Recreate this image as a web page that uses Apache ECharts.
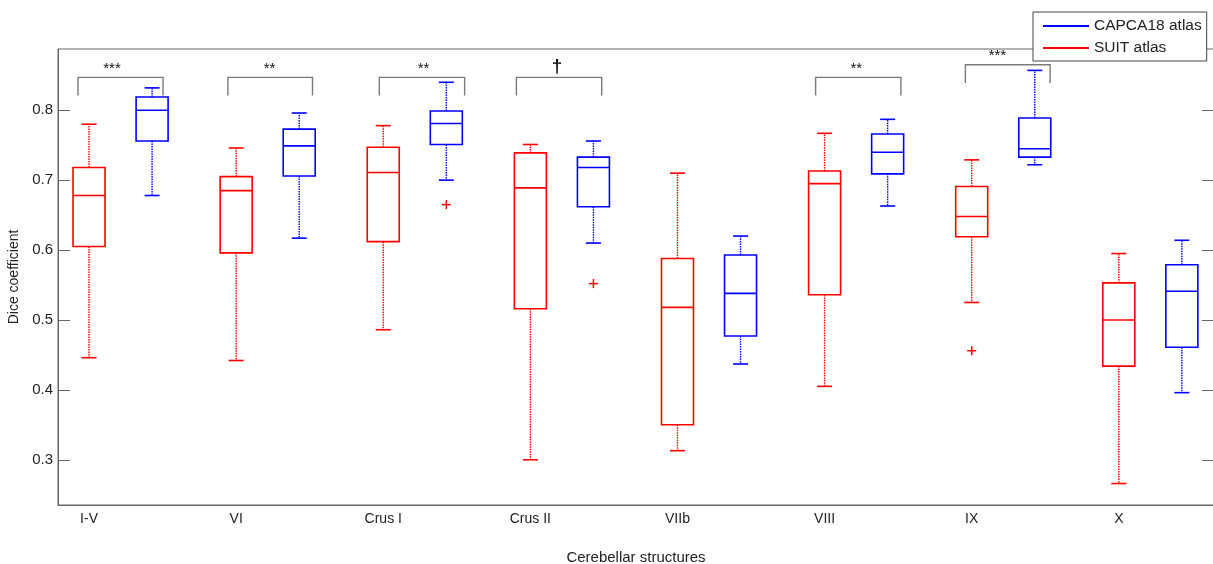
<!DOCTYPE html>
<html>
<head>
<meta charset="utf-8">
<script src="https://cdn.jsdelivr.net/npm/echarts@6/dist/echarts.min.js"></script>
<style>
  html, body { margin: 0; padding: 0; background: #fff; }
  #chart { width: 1213px; height: 564px; }
</style>
</head>
<body>
<div id="chart"></div>
<script>
// cerebellar structures (x ticks sit on the SUIT boxes)
const structures = ['I-V', 'VI', 'Crus I', 'Crus II', 'VIIb', 'VIII', 'IX', 'X'];

// box stats: [min, Q1, median, Q3, max]
const suitStats = [
  [0.446, 0.605, 0.678, 0.718, 0.780],
  [0.442, 0.596, 0.685, 0.705, 0.746],
  [0.486, 0.612, 0.711, 0.747, 0.778],
  [0.300, 0.516, 0.689, 0.739, 0.751],
  [0.313, 0.350, 0.518, 0.588, 0.710],
  [0.405, 0.536, 0.695, 0.713, 0.767],
  [0.525, 0.619, 0.648, 0.691, 0.729],
  [0.266, 0.434, 0.500, 0.553, 0.595]
];
const capcaStats = [
  [0.678, 0.756, 0.800, 0.819, 0.832],
  [0.617, 0.706, 0.749, 0.773, 0.796],
  [0.700, 0.751, 0.781, 0.799, 0.840],
  [0.610, 0.662, 0.718, 0.733, 0.756],
  [0.437, 0.477, 0.538, 0.593, 0.620],
  [0.663, 0.709, 0.740, 0.766, 0.787],
  [0.722, 0.733, 0.745, 0.789, 0.857],
  [0.396, 0.461, 0.541, 0.579, 0.614]
];

// outliers: [position, value]
const outliers = [
  [3.4286, 0.665],
  [4.4286, 0.552],
  [7, 0.456]
];

// significance brackets: [x left, x right, y top, y leg end, label x, label]
const brackets = [
  [0.925, 1.503, 0.847, 0.821, 1.156, '***'],
  [1.944, 2.519, 0.847, 0.821, 2.227, '**'],
  [2.973, 3.553, 0.847, 0.821, 3.274, '**'],
  [3.905, 4.485, 0.847, 0.821, 4.182, '\u2020'],
  [5.939, 6.519, 0.847, 0.821, 6.216, '**'],
  [6.957, 7.533, 0.865, 0.839, 7.175, '***']
];

const yTicks = [0.3, 0.4, 0.5, 0.6, 0.7, 0.8];
const blueOffset = 0.4286;

const RED = '#ff0000';
const BLUE = '#0000ff';
const AXIS = '#666666';
const FONT = '"Liberation Sans", Arial, sans-serif';

const suitData = suitStats.map((s, i) => [i + 1].concat(s));
const capcaData = capcaStats.map((s, i) => [i + 1 + blueOffset].concat(s));

function renderBox(color) {
  return function (params, api) {
    const x = api.value(0);
    const pMin = api.coord([x, api.value(1)]);
    const pQ1 = api.coord([x, api.value(2)]);
    const pMed = api.coord([x, api.value(3)]);
    const pQ3 = api.coord([x, api.value(4)]);
    const pMax = api.coord([x, api.value(5)]);
    const cx = pMed[0];
    const hw = 16, cap = 7.5;
    const solid = { stroke: color, lineWidth: 1.6, fill: null };
    const dotted = { stroke: color, lineWidth: 1.4, lineDash: [1.5, 1] };
    return {
      type: 'group',
      children: [
        { type: 'line', shape: { x1: cx, y1: pQ3[1], x2: cx, y2: pMax[1] }, style: dotted },
        { type: 'line', shape: { x1: cx, y1: pQ1[1], x2: cx, y2: pMin[1] }, style: dotted },
        { type: 'line', shape: { x1: cx - cap, y1: pMax[1], x2: cx + cap, y2: pMax[1] }, style: solid },
        { type: 'line', shape: { x1: cx - cap, y1: pMin[1], x2: cx + cap, y2: pMin[1] }, style: solid },
        { type: 'rect', shape: { x: cx - hw, y: pQ3[1], width: hw * 2, height: pQ1[1] - pQ3[1] }, style: solid },
        { type: 'line', shape: { x1: cx - hw, y1: pMed[1], x2: cx + hw, y2: pMed[1] }, style: solid }
      ]
    };
  };
}

const chart = echarts.init(document.getElementById('chart'));

const option = {
  animation: false,
  backgroundColor: '#fff',
  grid: {
    left: 58, right: -1, top: 49, bottom: 59,
    outerBoundsMode: 'none',
    containLabel: false,
    show: true, borderColor: AXIS, borderWidth: 1
  },
  legend: {
    orient: 'vertical',
    left: 1033, top: 12,
    padding: [4, 5, 3, 10],
    itemGap: 2,
    itemWidth: 46, itemHeight: 2,
    backgroundColor: '#fff',
    borderColor: '#444',
    borderWidth: 1,
    borderRadius: 0,
    z: 20,
    textStyle: { fontFamily: FONT, fontSize: 15.5, color: '#222', lineHeight: 20 },
    data: [
      { name: 'CAPCA18 atlas', icon: 'rect', itemStyle: { color: BLUE } },
      { name: 'SUIT atlas', icon: 'rect', itemStyle: { color: RED } }
    ]
  },
  xAxis: {
    type: 'value',
    min: 0.789, max: 8.647,
    name: 'Cerebellar structures',
    nameLocation: 'middle',
    nameGap: 45,
    nameTextStyle: { fontFamily: FONT, fontSize: 15, color: '#222' },
    axisLine: { show: true, lineStyle: { color: AXIS, width: 1 } },
    axisTick: { show: false },
    splitLine: { show: false },
    axisLabel: {
      customValues: [1, 2, 3, 4, 5, 6, 7, 8],
      formatter: v => structures[Math.round(v) - 1],
      margin: 7,
      fontFamily: FONT, fontSize: 14, color: '#222'
    }
  },
  yAxis: [{
    type: 'value',
    min: 0.2353, max: 0.8876,
    name: 'Dice coefficient',
    nameLocation: 'middle',
    nameGap: 30,
    nameTextStyle: { fontFamily: FONT, fontSize: 14, color: '#222' },
    axisLine: { show: true, lineStyle: { color: AXIS, width: 1 } },
    axisTick: { show: true, inside: true, length: 12, customValues: yTicks, lineStyle: { color: AXIS } },
    splitLine: { show: false },
    axisLabel: {
      customValues: yTicks,
      formatter: v => v.toFixed(1),
      margin: 5,
      fontFamily: FONT, fontSize: 15, color: '#222'
    }
  }, {
    type: 'value',
    position: 'right',
    min: 0.2353, max: 0.8876,
    axisLine: { show: true, lineStyle: { color: AXIS, width: 1 } },
    axisTick: { show: true, inside: true, length: 12, customValues: yTicks, lineStyle: { color: AXIS } },
    axisLabel: { show: false },
    splitLine: { show: false }
  }],
  series: [
    {
      name: 'CAPCA18 atlas',
      type: 'custom',
      data: capcaData,
      renderItem: renderBox(BLUE),
      itemStyle: { color: BLUE },
      encode: { x: 0, y: [1, 2, 3, 4, 5] }
    },
    {
      name: 'SUIT atlas',
      type: 'custom',
      data: suitData,
      renderItem: renderBox(RED),
      itemStyle: { color: RED },
      encode: { x: 0, y: [1, 2, 3, 4, 5] }
    },
    {
      name: 'outliers',
      type: 'custom',
      data: outliers,
      renderItem: function (params, api) {
        const p = api.coord([api.value(0), api.value(1)]);
        const s = 4.5;
        const st = { stroke: RED, lineWidth: 1.5 };
        return {
          type: 'group',
          children: [
            { type: 'line', shape: { x1: p[0] - s, y1: p[1], x2: p[0] + s, y2: p[1] }, style: st },
            { type: 'line', shape: { x1: p[0], y1: p[1] - s, x2: p[0], y2: p[1] + s }, style: st }
          ]
        };
      }
    },
    {
      name: 'brackets',
      type: 'custom',
      data: brackets,
      renderItem: function (params, api) {
        const b = brackets[params.dataIndex];
        const l = api.coord([b[0], b[2]]);
        const r = api.coord([b[1], b[2]]);
        const lb = api.coord([b[0], b[3]]);
        const t = api.coord([b[4], b[2]]);
        const dagger = b[5] === '\u2020';
        return {
          type: 'group',
          children: [
            {
              type: 'polyline',
              shape: { points: [[l[0], lb[1]], [l[0], l[1]], [r[0], r[1]], [r[0], lb[1]]] },
              style: { stroke: '#7a7a7a', lineWidth: 1.4, fill: null }
            },
            {
              type: 'text',
              style: {
                text: b[5],
                x: t[0], y: t[1] - 1,
                align: 'center', verticalAlign: 'bottom',
                font: dagger ? 'bold 19px ' + FONT : '15px ' + FONT,
                fill: '#111'
              }
            }
          ]
        };
      }
    }
  ]
};

chart.setOption(option);
</script>
</body>
</html>
